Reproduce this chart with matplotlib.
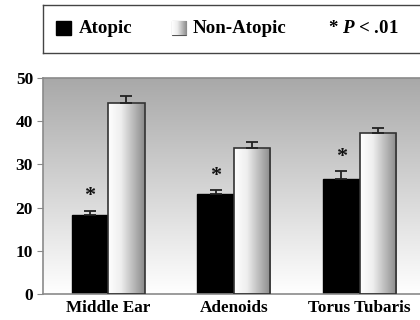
import numpy as np
import matplotlib
matplotlib.use("Agg")
import matplotlib.pyplot as plt
from matplotlib.colors import LinearSegmentedColormap
from matplotlib.patches import Rectangle

categories = ["Middle Ear", "Adenoids", "Torus Tubaris"]
atopic = [18.3, 23.1, 26.6]
atopic_err = [1.0, 1.0, 1.9]
non_atopic = [44.2, 33.9, 37.2]
non_atopic_err = [1.6, 1.2, 1.3]
significant = [True, True, True]
yticks = [0, 10, 20, 30, 40, 50]

plt.rcParams['font.family'] = ['Liberation Serif', 'DejaVu Serif']
plt.rcParams['font.weight'] = 'bold'
plt.rcParams['mathtext.fontset'] = 'custom'
plt.rcParams['mathtext.it'] = 'Liberation Serif:italic:bold'
plt.rcParams['mathtext.rm'] = 'Liberation Serif:bold'

fig = plt.figure(figsize=(4.2, 3.2), dpi=100)
ax = fig.add_axes([0.102, 0.080, 0.898, 0.677])

# background gradient, grey at top fading to white
bg = LinearSegmentedColormap.from_list("bg", ["#ffffff", "#a8a8a8"])
ax.imshow(np.linspace(0, 1, 256).reshape(-1, 1)[::-1], cmap=bg, aspect="auto",
          extent=[0, 1, 0, 1], transform=ax.transAxes, zorder=0)

x = np.arange(len(categories))
w = 0.29
b1 = ax.bar(x - w / 2, atopic, w, color="black", edgecolor="black", zorder=2)
b2 = ax.bar(x + w / 2, non_atopic, w, facecolor="none", edgecolor="#333333",
            linewidth=1.2, zorder=3)

grad = LinearSegmentedColormap.from_list(
    "bar", [(0, "#ffffff"), (0.35, "#eeeeee"), (1, "#8a8a8a")])
for r in b2:
    im = ax.imshow(np.linspace(0, 1, 128).reshape(1, -1), cmap=grad, aspect="auto",
                   extent=[r.get_x(), r.get_x() + r.get_width(), 0, r.get_height()],
                   zorder=2)
    im.set_clip_path(r)

ax.errorbar(x - w / 2, atopic, yerr=[np.zeros(3), atopic_err], fmt="none",
            ecolor="#222222", elinewidth=1.3, capsize=4.5, capthick=1.3, zorder=4)
ax.errorbar(x + w / 2, non_atopic, yerr=[np.zeros(3), non_atopic_err], fmt="none",
            ecolor="#222222", elinewidth=1.3, capsize=4.5, capthick=1.3, zorder=4)

for xi, v, e, s in zip(x, atopic, atopic_err, significant):
    if s:
        ax.text(xi - w / 2, v + e + 1.0, "*", ha="center", va="bottom",
                fontsize=16, fontweight="bold", color="#111111")

ax.set_xlim(-0.52, 2.48)
ax.set_ylim(0, 50)
ax.set_yticks(yticks)
ax.set_xticks(x)
ax.set_xticklabels(categories)
ax.tick_params(axis="y", labelsize=12.5, length=4, color="#888888", pad=3)
ax.tick_params(axis="x", labelsize=12.3, length=0, pad=4)
for lab in ax.get_xticklabels() + ax.get_yticklabels():
    lab.set_fontweight("bold")
for s in ["left", "bottom", "top"]:
    ax.spines[s].set_color("#8a8a8a")
    ax.spines[s].set_linewidth(1.2)
ax.spines["right"].set_visible(False)

# legend box
lax = fig.add_axes([0.102, 0.834, 0.95, 0.150])
lax.set_xticks([])
lax.set_yticks([])
for s in lax.spines.values():
    s.set_color("#444444")
    s.set_linewidth(1.0)
lax.add_patch(Rectangle((0.033, 0.38), 0.037, 0.29, facecolor="black", edgecolor="black"))
sq = Rectangle((0.323, 0.38), 0.037, 0.29, facecolor="none", edgecolor="#555555", lw=0.8)
lax.add_patch(sq)
im = lax.imshow(np.linspace(0, 1, 64).reshape(1, -1), cmap=grad, aspect="auto",
                extent=[0.323, 0.360, 0.38, 0.67], zorder=1)
im.set_clip_path(sq)
lax.set_xlim(0, 1)
lax.set_ylim(0, 1)
lax.text(0.091, 0.52, "Atopic", va="center", fontsize=13.6, fontweight="bold")
lax.text(0.375, 0.52, "Non-Atopic", va="center", fontsize=13.6, fontweight="bold")
lax.text(0.714, 0.52, "* $P$ < .01", va="center", fontsize=13.6, fontweight="bold")

fig.savefig("out.png", dpi=100)
